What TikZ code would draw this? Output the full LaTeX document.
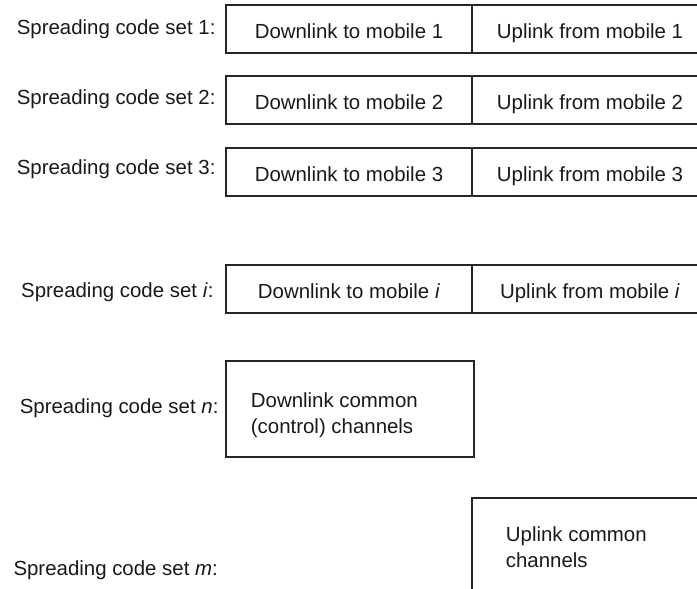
\documentclass[tikz,border=0pt]{standalone}
\usepackage{fontspec}
\setmainfont{Liberation Sans}
\begin{document}
\begin{tikzpicture}[x=1bp,y=-1bp,font=\fontsize{20.5}{26}\selectfont]

        \useasboundingbox (0,0) rectangle (697,589);
        \clip (0,0) rectangle (697,589);

        \begin{scope}[every node/.style={anchor=base east, text=black!90}]
          \node (s1) at (219,35)  {Spreading code set 1:};
          \node (s2) at (219,105) {Spreading code set 2:};
          \node (s3) at (219,175) {Spreading code set 3:};
          \node (si) at (217,297) {Spreading code set \textit{i}:};
          \node (sn) at (222,413) {Spreading code set \textit{n}:};
          \node[anchor=base west] (sm) at (10,575) {Spreading code set \textit{m}:};
        \end{scope}

        \begin{scope}[every node/.style={draw=black!85, line width=1.2bp, inner sep=0pt, text=black!90}]

          \begin{scope}[every node/.append style={minimum height=48bp, text height=19bp, text depth=0pt}]
            \node[minimum width=246bp] (d1) at (349,29)  {Downlink to mobile 1};
            \node[minimum width=236bp] (u1) at (590,29)  {Uplink from mobile 1};
            \node[minimum width=246bp] (d2) at (349,100) {Downlink to mobile 2};
            \node[minimum width=236bp] (u2) at (590,100) {Uplink from mobile 2};
            \node[minimum width=246bp] (d3) at (349,172) {Downlink to mobile 3};
            \node[minimum width=236bp] (u3) at (590,172) {Uplink from mobile 3};
            \node[minimum width=246bp] (di) at (349,289) {Downlink to mobile \textit{i}};
            \node[minimum width=236bp] (ui) at (590,289) {Uplink from mobile \textit{i}};
          \end{scope}

          \node[minimum width=248bp, minimum height=96bp]  (dn) at (350,409) {};
          \node[minimum width=240bp, minimum height=112bp] (um) at (592,554) {};
        \end{scope}

        % base of a two-line node is its last line
        \begin{scope}[every node/.style={anchor=base west, align=left, text=black!90}]
          \node (dntext) at ([xshift=22bp,yshift=-73bp]dn.north west) {Downlink common\\(control) channels};
          \node (umtext) at ([xshift=31bp,yshift=-70bp]um.north west) {Uplink common\\channels};
        \end{scope}

      \end{tikzpicture}
\end{document}
